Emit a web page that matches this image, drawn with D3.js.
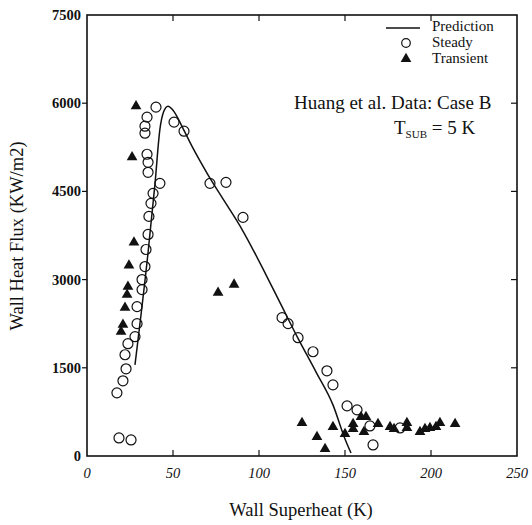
<!DOCTYPE html>
<meta charset="utf-8">
<style>
    body { margin: 0; background: #fff; }
    svg { display: block; background: #fff; }
    text { font-family: "Liberation Serif", "Times New Roman", serif; fill: #111; }
    .tick-y { font-size: 14.5px; font-weight: bold; }
    .tick-x { font-size: 14.5px; font-style: italic; }
    .axis-label { font-size: 18.5px; }
    .legend { font-size: 15px; }
    .note { font-size: 19px; }
</style>
<svg width="532" height="525"></svg>
<script src="https://d3js.org/d3.v7.min.js"></script>
<script>

    // data (x = wall superheat K, y = heat flux KW/m2)
    var xTicks = [0, 50, 100, 150, 200, 250];
    var yTicks = [0, 1500, 3000, 4500, 6000, 7500];

    var predX = [27.9, 35.5, 39.5, 42.4, 44.5, 47.1, 50.0, 56.0, 61.0, 70.0, 80.0, 90.0, 104.0, 112.8, 122.7, 133.1, 143.0, 150.0, 153.5];
    var predY = [1551, 3461, 4620, 5558, 5850, 5950, 5880, 5560, 5270, 4800, 4330, 3860, 3086, 2575, 2000, 1432, 870, 290, 50];

    var steadyX = [40.1, 34.9, 33.7, 33.7, 50.6, 56.4, 34.9, 35.5, 35.5, 42.4, 38.4, 37.2, 36.0, 35.5, 34.3, 33.7, 32.0, 32.0, 29.1, 29.1,
                   27.9, 23.8, 22.1, 22.7, 20.9, 17.4, 18.6, 25.6, 71.5, 80.8, 90.7, 113.4, 116.9, 122.7, 131.4, 139.5, 143.0, 151.2,
                   157.0, 164.5, 166.3, 182.0];
    var steadyY = [5933, 5763, 5609, 5490, 5678, 5524, 5132, 4995, 4825, 4637, 4467, 4297, 4075, 3768, 3512, 3222, 3001, 2830, 2540, 2251,
                   2029, 1910, 1722, 1483, 1279, 1074, 307, 273, 4637, 4654, 4058, 2353, 2251, 2012, 1773, 1449, 1210, 852,
                   784, 511, 188, 477];

    var transX = [28.5, 26.2, 27.3, 24.4, 23.8, 23.3, 22.1, 20.9, 19.8, 76.2, 85.5, 125.0, 133.7, 138.4, 143.0, 150.0, 154.7, 154.7,
                  159.3, 162.2, 161.0, 169.2, 176.2, 178.5, 186.0, 186.0, 193.6, 196.5, 199.4, 202.9, 205.2, 214.0];
    var transY = [5950, 5081, 3632, 3240, 2881, 2745, 2523, 2234, 2114, 2779, 2916, 563, 324, 119, 494, 375, 546, 460,
                  665, 665, 409, 546, 494, 460, 563, 477, 409, 460, 477, 494, 563, 546];

    var svg = d3.select("svg"),
        plotL = 87, plotR = 517, plotT = 15, plotB = 456;

    var x = d3.scaleLinear().domain([0, 250]).range([plotL, plotR]);
    var y = d3.scaleLinear().domain([0, 7500]).range([plotB, plotT]);

    // frame
    svg.append("rect")
        .attr("x", plotL).attr("y", plotT)
        .attr("width", plotR - plotL).attr("height", plotB - plotT)
        .attr("fill", "none").attr("stroke", "#111").attr("stroke-width", 1.6);

    // ticks: left outward, others inward
    var g = svg.append("g").attr("stroke", "#111").attr("stroke-width", 1.2);
    yTicks.slice(1, -1).forEach(function (v) {
        g.append("line").attr("x1", plotL - 5).attr("x2", plotL).attr("y1", y(v)).attr("y2", y(v));
        g.append("line").attr("x1", plotR - 6).attr("x2", plotR).attr("y1", y(v)).attr("y2", y(v));
    });
    xTicks.slice(1, -1).forEach(function (v) {
        g.append("line").attr("x1", x(v)).attr("x2", x(v)).attr("y1", plotB).attr("y2", plotB - 6);
        g.append("line").attr("x1", x(v)).attr("x2", x(v)).attr("y1", plotT).attr("y2", plotT + 6);
    });

    svg.selectAll(".tick-y")
        .data(yTicks)
        .enter().append("text")
        .attr("class", "tick-y")
        .attr("x", plotL - 6)
        .attr("y", function (d) { return y(d) + 5; })
        .attr("text-anchor", "end")
        .text(function (d) { return d; });

    svg.selectAll(".tick-x")
        .data(xTicks)
        .enter().append("text")
        .attr("class", "tick-x")
        .attr("x", function (d) { return x(d); })
        .attr("y", 478)
        .attr("text-anchor", "middle")
        .text(function (d) { return d; });

    svg.append("text")
        .attr("class", "axis-label")
        .attr("transform", "translate(23,236) rotate(-90)")
        .attr("text-anchor", "middle")
        .text("Wall Heat Flux (KW/m2)");

    svg.append("text")
        .attr("class", "axis-label")
        .attr("x", 301).attr("y", 516)
        .attr("text-anchor", "middle")
        .text("Wall Superheat (K)");

    // prediction curve
    var line = d3.line()
        .x(function (d, i) { return x(predX[i]); })
        .y(function (d, i) { return y(predY[i]); })
        .curve(d3.curveMonotoneX);

    svg.append("path")
        .attr("d", line(predX))
        .attr("fill", "none")
        .attr("stroke", "#111")
        .attr("stroke-width", 1.5);

    // steady points
    svg.selectAll(".steady")
        .data(steadyX)
        .enter().append("circle")
        .attr("class", "steady")
        .attr("cx", function (d) { return x(d); })
        .attr("cy", function (d, i) { return y(steadyY[i]); })
        .attr("r", 5)
        .attr("fill", "none")
        .attr("stroke", "#111")
        .attr("stroke-width", 1.2);

    // transient points
    var tri = d3.symbol().type(d3.symbolTriangle).size(50);
    svg.selectAll(".trans")
        .data(transX)
        .enter().append("path")
        .attr("class", "trans")
        .attr("d", tri)
        .attr("transform", function (d, i) { return "translate(" + x(d) + "," + y(transY[i]) + ")"; })
        .attr("fill", "#111");

    // legend
    var lg = svg.append("g").attr("class", "legend");
    lg.append("line").attr("x1", 386).attr("x2", 420).attr("y1", 28).attr("y2", 28)
        .attr("stroke", "#111").attr("stroke-width", 1.3);
    lg.append("text").attr("x", 432).attr("y", 31).text("Prediction");
    lg.append("circle").attr("cx", 406).attr("cy", 43).attr("r", 4.3)
        .attr("fill", "none").attr("stroke", "#111").attr("stroke-width", 1.2);
    lg.append("text").attr("x", 432).attr("y", 47).text("Steady");
    lg.append("path").attr("d", tri).attr("transform", "translate(406,59)").attr("fill", "#111");
    lg.append("text").attr("x", 432).attr("y", 63).text("Transient");

    svg.append("text")
        .attr("class", "note")
        .attr("x", 294).attr("y", 109)
        .text("Huang et al. Data: Case B");

    var t = svg.append("text").attr("class", "note").attr("x", 394).attr("y", 134);
    t.append("tspan").text("T");
    t.append("tspan").attr("dy", 4).attr("font-size", 11).text("SUB");
    t.append("tspan").attr("dy", -4).text(" = 5 K");

</script>
